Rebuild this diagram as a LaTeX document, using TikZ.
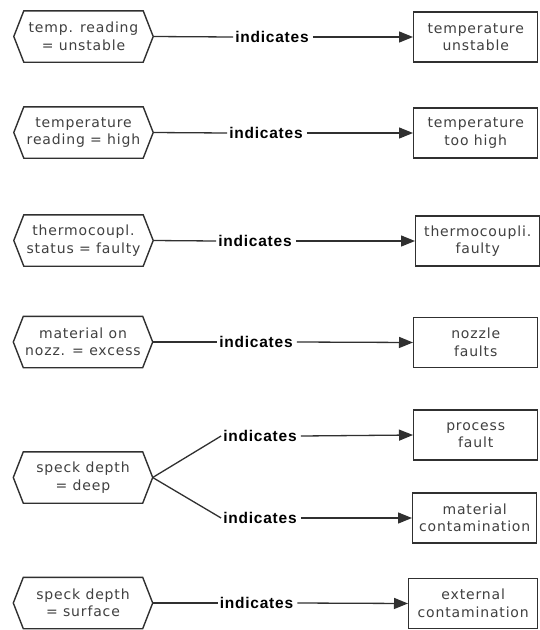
\documentclass[tikz,border=0pt]{standalone}
\usepackage{fontspec}
\setmainfont{DejaVu Sans}[LetterSpace=6]
\newfontfamily\rellab{Liberation Sans Bold}[LetterSpace=5]
\usetikzlibrary{arrows.meta}
\definecolor{ink}{HTML}{303030}
\definecolor{txt}{HTML}{404040}
\tikzset{
  hexnode/.style={inner sep=0pt, minimum width=139pt, minimum height=51pt, align=center,
    font=\fontsize{14}{17.5}\selectfont, text=txt},
  outbox/.style={draw=ink, line width=1.4pt, inner sep=0pt, minimum width=124pt, minimum height=50pt,
    align=center, anchor=west, font=\fontsize{14}{17.5}\selectfont, text=txt},
  rel/.style={font=\rellab\fontsize{15.5}{18}\selectfont, inner sep=0pt, text=black},
  conn/.style={draw=ink, line width=1.3pt},
  arr/.style={conn, -{Triangle[length=14pt,width=11pt]}},
  hexline/.style={draw=ink, line width=1.4pt, line join=miter}
}
\newcommand\hexdraw[1]{\draw[hexline] (#1.west) -- ([xshift=10pt]#1.north west) -- ([xshift=-10pt]#1.north east) -- (#1.east) -- ([xshift=-10pt]#1.south east) -- ([xshift=10pt]#1.south west) -- cycle;}
\begin{document}
\begin{tikzpicture}[x=1pt,y=-1pt]
\fill[white] (0,0) rectangle (539,630);
\useasboundingbox (0,0) rectangle (539,630);
% row 1
\node[hexnode] (h1) at (83.5,36.5) {temp. reading\\= unstable};
\node[rel] (i1) at (272,37) {indicates};
\node[outbox] (b1) at (413,37) {temperature\\unstable};
% row 2
\node[hexnode] (h2) at (83.5,132.5) {temperature\\reading = high};
\node[rel] (i2) at (266,133) {indicates};
\node[outbox] (b2) at (413,133) {temperature\\too high};
% row 3
\node[hexnode] (h3) at (83.5,240.5) {thermocoupl.\\status = faulty};
\node[rel] (i3) at (255,241) {indicates};
\node[outbox] (b3) at (415,241) {thermocoupli.\\faulty};
% row 4
\node[hexnode] (h4) at (83,342) {material on\\nozz. = excess};
\node[rel] (i4) at (256,342) {indicates};
\node[outbox] (b4) at (413,342.5) {nozzle\\faults};
% row 5
\node[hexnode] (h5) at (83,477.5) {speck depth\\= deep};
\node[rel] (i5a) at (260,436) {indicates};
\node[rel] (i5b) at (260,518) {indicates};
\node[outbox] (b5a) at (413,435) {process\\fault};
\node[outbox] (b5b) at (412,518) {material\\contamination};
% row 6
\node[hexnode] (h6) at (83,603) {speck depth\\= surface};
\node[rel] (i6) at (256.5,603) {indicates};
\node[outbox, minimum width=129pt] (b6) at (408,603.5) {external\\contamination};
% hexagon outlines
\foreach \n in {h1,h2,h3,h4,h5,h6} {\hexdraw{\n}}
% connectors
\foreach \k in {1,2,3,4,6} {
  \draw[conn] (h\k.east) -- ([xshift=-2pt]i\k.west);
  \draw[arr] ([xshift=4pt]i\k.east) -- (b\k.west);
}
\draw[conn] (h5.east) -- ([xshift=-2pt]i5a.west);
\draw[conn] (h5.east) -- ([xshift=-2pt]i5b.west);
\draw[arr] ([xshift=4pt]i5a.east) -- (b5a.west);
\draw[arr] ([xshift=4pt]i5b.east) -- (b5b.west);
\end{tikzpicture}
\end{document}
